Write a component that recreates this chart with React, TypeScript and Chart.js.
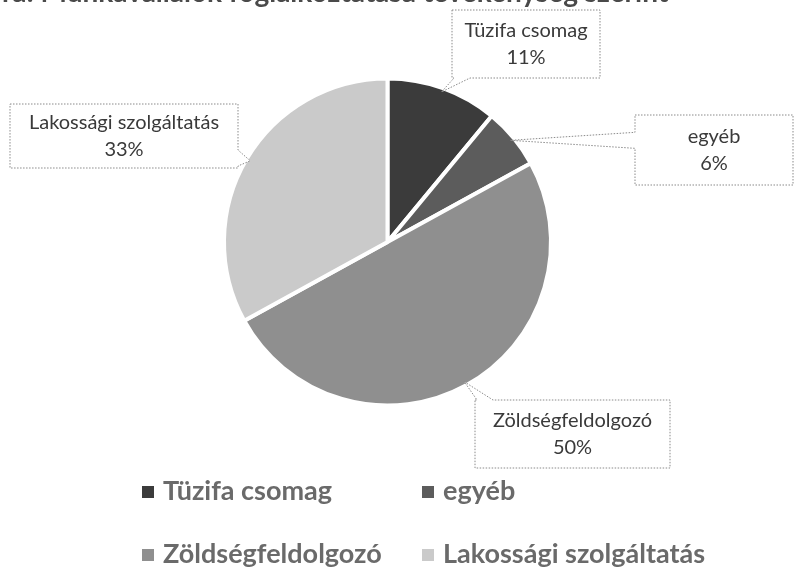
import { useEffect, useRef } from "react";
import { Chart, registerables } from "chart.js";

Chart.register(...registerables);

const TITLE = "ábra: Munkavállalók foglalkoztatása tevékenység szerint";
const CATEGORIES = ["Tüzifa csomag", "egyéb", "Zöldségfeldolgozó", "Lakossági szolgáltatás"];
const SHARES = [11, 6, 50, 33];
const COLORS = ["#3b3b3b", "#5c5c5c", "#8f8f8f", "#cacaca"];

// layout of the callout boxes (x, y, w, h) for each slice
const LABEL_BOXES = [
  { x: 452, y: 10, w: 148, h: 68 },
  { x: 635, y: 115, w: 158, h: 70 },
  { x: 475, y: 400, w: 195, h: 68 },
  { x: 10, y: 104, w: 228, h: 64 },
];
const LEGEND_COLS = [142, 422];
const LEGEND_ROWS = [492, 555];

function calloutPath(ctx: CanvasRenderingContext2D, b: any, tip: { x: number; y: number }) {
  const { x, y, w, h } = b;
  const exL = x - tip.x, exR = tip.x - (x + w), exT = y - tip.y, exB = tip.y - (y + h);
  const m = Math.max(exL, exR, exT, exB);
  let side = "";
  if (m > 0) side = m === exL ? "L" : m === exR ? "R" : m === exT ? "T" : "B";
  const hw = 8;
  const cx = Math.min(Math.max(tip.x, x + hw + 2), x + w - hw - 2);
  const cy = Math.min(Math.max(tip.y, y + hw + 2), y + h - hw - 2);
  ctx.beginPath();
  ctx.moveTo(x, y);
  if (side === "T") { ctx.lineTo(cx - hw, y); ctx.lineTo(tip.x, tip.y); ctx.lineTo(cx + hw, y); }
  ctx.lineTo(x + w, y);
  if (side === "R") { ctx.lineTo(x + w, cy - hw); ctx.lineTo(tip.x, tip.y); ctx.lineTo(x + w, cy + hw); }
  ctx.lineTo(x + w, y + h);
  if (side === "B") { ctx.lineTo(cx + hw, y + h); ctx.lineTo(tip.x, tip.y); ctx.lineTo(cx - hw, y + h); }
  ctx.lineTo(x, y + h);
  if (side === "L") { ctx.lineTo(x, cy + hw); ctx.lineTo(tip.x, tip.y); ctx.lineTo(x, cy - hw); }
  ctx.closePath();
}

const overlay = {
  id: "overlay",
  afterDraw(chart: any) {
    const ctx: CanvasRenderingContext2D = chart.ctx;
    const meta = chart.getDatasetMeta(0);
    const labels: string[] = chart.data.labels;
    const values: number[] = chart.data.datasets[0].data;
    const colors: string[] = chart.data.datasets[0].backgroundColor;
    ctx.save();
    // cut-off title
    ctx.font = "bold 28px Lato";
    ctx.fillStyle = "#4a4a4a";
    ctx.textAlign = "left";
    ctx.textBaseline = "alphabetic";
    ctx.fillText(TITLE, -28, 2);

    // callouts
    meta.data.forEach((arc: any, i: number) => {
      const p = arc.getProps(["x", "y", "startAngle", "endAngle", "outerRadius"], true);
      const mid = (p.startAngle + p.endAngle) / 2;
      const r = p.outerRadius - 4;
      const tip = { x: p.x + Math.cos(mid) * r, y: p.y + Math.sin(mid) * r };
      const b = LABEL_BOXES[i];
      calloutPath(ctx, b, tip);
      ctx.fillStyle = "#ffffff";
      ctx.fill();
      ctx.setLineDash([1.5, 1.5]);
      ctx.lineWidth = 1;
      ctx.strokeStyle = "#8a8a8a";
      ctx.stroke();
      ctx.setLineDash([]);
      ctx.fillStyle = "#3a3a3a";
      ctx.font = "20px Lato";
      ctx.textAlign = "center";
      ctx.textBaseline = "middle";
      const cx = b.x + b.w / 2;
      const cy = b.y + b.h / 2;
      ctx.fillText(labels[i], cx, cy - 13);
      ctx.fillText(values[i] + "%", cx, cy + 14);
    });

    // legend (2 x 2)
    ctx.font = "bold 27px Lato";
    ctx.textAlign = "left";
    ctx.textBaseline = "middle";
    labels.forEach((lab, i) => {
      const lx = LEGEND_COLS[i % 2];
      const ly = LEGEND_ROWS[Math.floor(i / 2)];
      ctx.fillStyle = colors[i];
      ctx.fillRect(lx, ly - 6, 12, 12);
      ctx.fillStyle = "#6a6a6a";
      ctx.fillText(lab, lx + 21, ly - 1);
    });
    ctx.restore();
  },
};

export default function App() {
  const ref = useRef<HTMLCanvasElement>(null);
  useEffect(() => {
    document.body.style.margin = "0";
    const chart = new Chart(ref.current!, {
      type: "pie",
      data: {
        labels: CATEGORIES,
        datasets: [
          {
            data: SHARES,
            backgroundColor: COLORS,
            borderColor: "#ffffff",
            borderWidth: 4,
          },
        ],
      },
      options: {
        animation: false,
        responsive: true,
        maintainAspectRatio: false,
        layout: { padding: { left: 222, right: 242, top: 76, bottom: 180 } },
        plugins: {
          legend: { display: false },
          tooltip: { enabled: false },
          title: { display: false },
        },
      },
      plugins: [overlay],
    });
    return () => chart.destroy();
  }, []);
  return (
    <div style={{ position: "fixed", left: 0, top: 0, width: 795, height: 588, background: "#fff" }}>
      <canvas ref={ref} />
    </div>
  );
}
